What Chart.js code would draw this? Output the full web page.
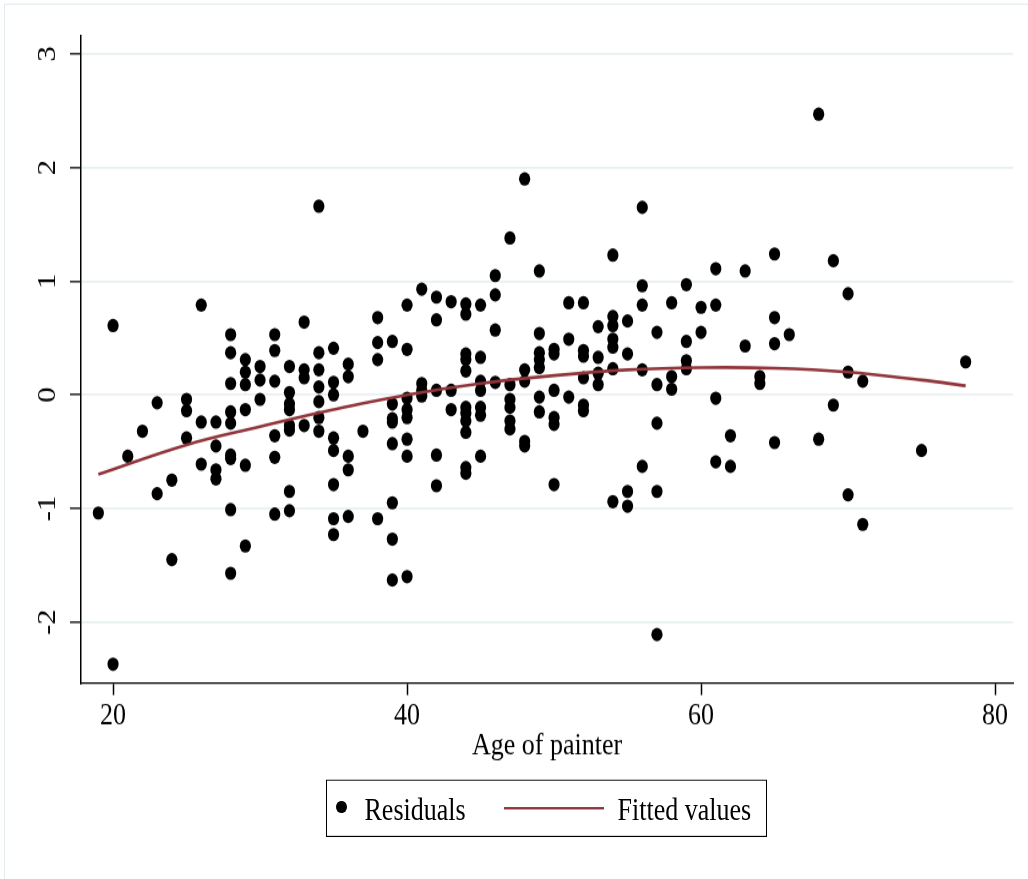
<!DOCTYPE html>
<html>
<head>
<meta charset="utf-8">
<script src="https://cdn.jsdelivr.net/npm/chart.js@4.4.1/dist/chart.umd.min.js"></script>
<style>
body{margin:0;background:#fff;overflow:hidden;}
#page{width:1028px;height:879px;overflow:hidden;}
#wrap{position:relative;width:1028px;height:733px;transform:scaleY(1.1992);transform-origin:0 0;}
#frame{position:absolute;left:4px;top:2.5px;width:1100px;height:1000px;border:1px solid #e3ebee;}
#chart{position:absolute;left:0;top:0;}
#legend{position:absolute;left:326px;top:650.4px;width:439px;height:45.5px;border:1.5px solid #000;
font-family:"Liberation Serif",serif;font-size:26px;line-height:26px;color:#000;}
#legend span{position:absolute;white-space:nowrap;}
</style>
</head>
<body>
<div id="page">
<div id="wrap">
<div id="frame"></div>
<canvas id="chart" width="1028" height="733"></canvas>
<div id="legend"></div>
</div>
</div>
<script>

let ages=[
19,
20,20,
21,
22,
23,23,
24,24,
25,25,25,
26,26,26,
27,27,27,27,
28,28,28,28,28,28,28,28,28,
29,29,29,29,29,29,
30,30,30,
31,31,31,31,31,31,
32,32,32,32,32,32,32,32,
33,33,33,33,
34,34,34,34,34,34,34,
35,35,35,35,35,35,35,35,
36,36,36,36,36,
37,
38,38,38,38,
39,39,39,39,39,39,39,39,
40,40,40,40,40,40,40,40,
41,41,41,41,
42,42,42,42,42,
43,43,43,
44,44,44,44,44,44,44,44,44,44,44,
45,45,45,45,45,45,45,
46,46,46,46,
47,47,47,47,47,47,
48,48,48,48,48,
49,49,49,49,49,49,49,
50,50,50,50,50,50,
51,51,51,
52,52,52,52,52,52,
53,53,53,53,
54,54,54,54,54,54,54,
55,55,55,55,
56,56,56,56,56,
57,57,57,57,57,
58,58,58,
59,59,59,59,
60,60,
61,61,61,61,
62,62,
63,63,
64,64,
65,65,65,65,
66,
68,68,
69,69,
70,70,70,
71,71,
75,
78
];

let residuals=[
-1.04,
0.61,-2.37,
-0.54,
-0.32,
-0.07,-0.87,
-0.75,-1.45,
-0.04,-0.14,-0.38,
0.79,-0.24,-0.61,
-0.24,-0.45,-0.66,-0.74,
0.53,0.37,0.10,-0.15,-0.25,-0.53,-0.56,-1.01,-1.57,
0.31,0.20,0.09,-0.13,-0.62,-1.33,
0.25,0.13,-0.04,
0.53,0.39,0.12,-0.36,-0.55,-1.05,
0.25,0.02,-0.08,-0.13,-0.27,-0.31,-0.85,-1.02,
0.64,0.22,0.15,-0.27,
1.66,0.37,0.22,0.07,-0.06,-0.20,-0.32,
0.41,0.11,0.00,-0.38,-0.49,-0.79,-1.09,-1.23,
0.27,0.16,-0.54,-0.66,-1.07,
-0.32,
0.68,0.46,0.31,-1.09,
0.47,-0.08,-0.21,-0.24,-0.43,-0.95,-1.27,-1.63,
0.79,0.40,-0.03,-0.13,-0.20,-0.39,-0.54,-1.60,
0.93,0.10,0.04,-0.01,
0.86,0.66,0.04,-0.53,-0.80,
0.82,0.04,-0.13,
0.80,0.71,0.36,0.31,0.21,-0.11,-0.16,-0.23,-0.33,-0.64,-0.69,
0.79,0.33,0.12,0.04,-0.11,-0.18,-0.54,
1.05,0.88,0.57,0.11,
1.38,0.09,-0.04,-0.11,-0.23,-0.30,
1.90,0.22,0.12,-0.41,-0.45,
1.09,0.54,0.37,0.31,0.24,-0.02,-0.15,
0.40,0.36,0.04,-0.20,-0.26,-0.79,
0.81,0.49,-0.02,
0.81,0.39,0.34,0.15,-0.09,-0.14,
0.60,0.33,0.19,0.09,
1.23,0.69,0.61,0.49,0.42,0.23,-0.94,
0.65,0.36,-0.85,-0.98,
1.65,0.96,0.79,0.22,-0.63,
0.55,0.09,-0.25,-0.85,-2.11,
0.81,0.16,0.05,
0.97,0.47,0.30,0.23,
0.77,0.55,
1.11,0.79,-0.03,-0.59,
-0.36,-0.63,
1.09,0.43,
0.16,0.10,
1.24,0.68,0.45,-0.42,
0.53,
2.47,-0.39,
1.18,-0.09,
0.89,0.20,-0.88,
0.12,-1.14,
-0.49,
0.29
];

let fitAges=[19,25,30,35,40,45,50,55,60,65,70,75,78];
let fitValues=[-0.70,-0.44,-0.28,-0.13,0.00,0.10,0.17,0.22,0.24,0.235,0.20,0.13,0.08];

let xTicks=[20,40,60,80];
let yTicks=[-2,-1,0,1,2,3];

let serif="'Liberation Serif','Times New Roman',serif";
let fitColor="#90353b";

// the canvas is drawn short and stretched by #wrap (the reference is taller than wide)
let chart=new Chart(document.getElementById("chart"),{
type:"scatter",
data:{
datasets:[
{
label:"Residuals",
data:ages.map((a,i)=>({x:a,y:residuals[i]})),
backgroundColor:"#000",
borderWidth:0,
pointRadius:5.6,
pointHoverRadius:5.6,
order:1
},
{
label:"Fitted values",
data:fitAges.map((a,i)=>({x:a,y:fitValues[i]})),
showLine:true,
borderColor:fitColor,
borderWidth:2.6,
pointRadius:0,
tension:0.4,
order:0
}
]
},
options:{
responsive:false,
animation:false,
devicePixelRatio:1,
layout:{padding:{left:0,top:30,right:15,bottom:94.9}},
plugins:{legend:{display:false},tooltip:{enabled:false}},
scales:{
x:{
type:"linear",
min:17.82,
max:81.22,
afterBuildTicks:s=>{s.ticks=xTicks.map(v=>({value:v}));},
afterFit:s=>{s.height=68.5;},
grid:{drawOnChartArea:false,drawTicks:true,tickLength:10,tickColor:"#000",tickWidth:1.5},
border:{color:"#000",width:1.3},
ticks:{color:"#000",padding:1.5,maxRotation:0,font:{family:serif,size:26},callback:v=>String(v)},
title:{display:true,text:"Age of painter",color:"#000",padding:0,font:{family:serif,size:26}}
},
y:{
type:"linear",
min:-2.537,
max:3.158,
afterBuildTicks:s=>{s.ticks=yTicks.map(v=>({value:v}));},
afterFit:s=>{s.width=81;},
grid:{color:"#e9f0f2",lineWidth:1.7,drawTicks:true,tickLength:11,tickColor:"#000",tickWidth:1.3},
border:{color:"#000",width:1.5},
ticks:{color:"#000",padding:11,minRotation:90,maxRotation:90,crossAlign:"center",font:{family:serif,size:26},callback:v=>String(v)}
}
}
}
});

let leg=document.getElementById("legend");
let ds=chart.data.datasets;
leg.innerHTML=
'<span style="left:9.3px;top:16.6px;width:10.5px;height:10.5px;border-radius:50%;background:#000"></span>'+
'<span style="left:37.5px;top:11.8px">'+ds[0].label+'</span>'+
'<span style="left:176.5px;top:21.5px;width:100px;height:2.5px;background:'+fitColor+'"></span>'+
'<span style="left:290.5px;top:11.8px">'+ds[1].label+'</span>';

</script>
</body>
</html>
